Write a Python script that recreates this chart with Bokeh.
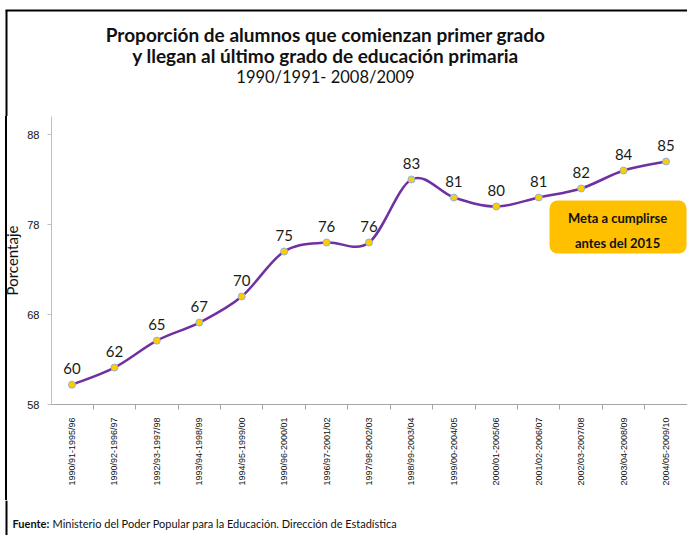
import math
import numpy as np
from bokeh.plotting import figure
from bokeh.layouts import column
from bokeh.models import Range1d, FixedTicker, BoxAnnotation
from bokeh.core.properties import value
from bokeh.embed import file_html
from bokeh.resources import INLINE

# ---- data ----
periods = ["1990/91-1995/96", "1990/92-1996/97", "1992/93-1997/98", "1993/94-1998/99",
           "1994/95-1999/00", "1990/96-2000/01", "1996/97-2001/02", "1997/98-2002/03",
           "1998/99-2003/04", "1999/00-2004/05", "2000/01-2005/06", "2001/02-2006/07",
           "2002/03-2007/08", "2003/04-2008/09", "2004/05-2009/10"]
values = [60.2, 62.1, 65.1, 67.1, 70.0, 75.0, 76.0, 76.0, 83.0, 81.0, 80.0, 81.0, 82.0, 84.0, 85.0]
labels = ["60", "62", "65", "67", "70", "75", "76", "76", "83", "81", "80", "81", "82", "84", "85"]
y_ticks = [58, 68, 78, 88]

title_1 = "Proporción de alumnos que comienzan primer grado"
title_2 = "y llegan al último grado de educación primaria"
title_3 = "1990/1991- 2008/2009"
y_label = "Porcentaje"
goal_1 = "Meta a cumplirse"
goal_2 = "antes del 2015"
source_bold = "Fuente:"
source_text = "Ministerio del Poder Popular para la Educación. Dirección de Estadística"

FONT = "Lato"
PURPLE = "#7030A0"
INK = "#111111"
TOTAL_W = 687
LEFT_RULE = {"background": "linear-gradient(90deg, #fff 5px, #000 5px, #000 7px, #fff 7px)"}


def panel(w, h, top):
    """Helper figure whose data coordinates are page pixels."""
    f = figure(width=w, height=h, x_range=Range1d(0, w), y_range=Range1d(top + h, top),
               output_backend="svg", toolbar_location=None,
               min_border=0, min_border_left=0, min_border_right=0,
               min_border_top=0, min_border_bottom=0,
               x_axis_location=None, y_axis_location=None,
               outline_line_color=None, background_fill_color="white",
               border_fill_color="white", frame_align=False)
    f.grid.visible = False
    return f


# ---- top: titles + frame border ----
top = panel(TOTAL_W, 116, 0)
top.segment(x0=[5], y0=[10], x1=[TOTAL_W], y1=[10], line_color="black", line_width=2)
top.segment(x0=[6], y0=[10], x1=[6], y1=[116], line_color="black", line_width=2)
top.text(x=[325, 325], y=[34, 55], text=[title_1, title_2], text_font=value(FONT),
         text_font_style="bold", text_font_size="19px", text_color=INK,
         text_align="center", text_baseline="middle")
top.text(x=[325], y=[76], text=[title_3], text_font=value(FONT),
         text_font_size="16.5px", text_color=INK,
         text_align="center", text_baseline="middle")

# ---- main chart ----
n = len(periods)
x = np.arange(n, dtype=float)
y = np.array(values, dtype=float)

p = figure(width=TOTAL_W, height=384,
           x_range=Range1d(-0.483, 14.506), y_range=Range1d(58, 90),
           output_backend="svg", toolbar_location=None,
           min_border_left=51, min_border_right=0, min_border_top=0, min_border_bottom=96,
           background_fill_color="white", border_fill_color=None,
           outline_line_color=None, styles=LEFT_RULE, frame_align=False)
p.grid.visible = False

p.xaxis.ticker = FixedTicker(ticks=list(range(n)), minor_ticks=[i + 0.5 for i in range(-1, n)])
p.xaxis.major_label_overrides = {i: lab for i, lab in enumerate(periods)}
p.xaxis.major_tick_out = 0
p.xaxis.major_tick_in = 0
p.xaxis.minor_tick_out = 5
p.xaxis.minor_tick_in = 0
p.xaxis.minor_tick_line_color = "#A6A6A6"
p.xaxis.axis_line_color = "#A6A6A6"
p.xaxis.major_label_orientation = math.pi / 2
p.xaxis.major_label_standoff = 8
p.xaxis.major_label_text_font_size = "9px"
p.xaxis.major_label_text_font = "Liberation Sans"
p.xaxis.major_label_text_color = INK

p.yaxis.ticker = FixedTicker(ticks=y_ticks)
p.yaxis.major_tick_out = 4
p.yaxis.major_tick_in = 0
p.yaxis.major_tick_line_color = "#BFBFBF"
p.yaxis.axis_line_color = "#BFBFBF"
p.yaxis.major_label_standoff = 8
p.yaxis.major_label_text_font_size = "11px"
p.yaxis.major_label_text_font = "Liberation Sans"
p.yaxis.major_label_text_color = INK
p.yaxis.axis_label = y_label
p.yaxis.axis_label_standoff = 3
p.yaxis.axis_label_text_font = FONT
p.yaxis.axis_label_text_font_style = "normal"
p.yaxis.axis_label_text_font_size = "15px"
p.yaxis.axis_label_text_color = INK

# smoothed line: Bezier segments with Catmull-Rom control points from the data
xp = np.concatenate([[x[0]], x, [x[-1]]])
yp = np.concatenate([[y[0]], y, [y[-1]]])
cx0 = xp[1:n] + (xp[2:n + 1] - xp[0:n - 1]) / 6
cy0 = yp[1:n] + (yp[2:n + 1] - yp[0:n - 1]) / 6
cx1 = xp[2:n + 1] - (xp[3:n + 2] - xp[1:n]) / 6
cy1 = yp[2:n + 1] - (yp[3:n + 2] - yp[1:n]) / 6
p.bezier(x0=x[:-1], y0=y[:-1], x1=x[1:], y1=y[1:],
         cx0=cx0, cy0=cy0, cx1=cx1, cy1=cy1,
         line_color=PURPLE, line_width=2.5)

p.scatter(x, y, size=7, fill_color="#FFCC00", line_color="#8DB3E2", line_width=1)

p.text(x, y, text=labels, text_font=value(FONT), text_font_size="15px",
       text_color="#1a1a1a", text_align="center", text_baseline="alphabetic",
       y_offset=-16)

# goal box
p.add_layout(BoxAnnotation(left=11.254, right=14.483, bottom=74.78, top=80.67,
                           fill_color="#FFC000", fill_alpha=1.0, line_color=None,
                           border_radius=8))
p.text(x=[12.857, 12.857], y=[78.67, 75.89], text=[goal_1, goal_2],
       text_font=value(FONT), text_font_style="bold", text_font_size="13px",
       text_color=INK, text_align="center", text_baseline="middle", level="overlay")

# ---- bottom: source ----
bottom = panel(TOTAL_W, 35, 500)
bottom.segment(x0=[6], y0=[500], x1=[6], y1=[535], line_color="black", line_width=2)
bottom.text(x=[12], y=[523], text=[source_bold], text_font=value(FONT),
            text_font_style="bold", text_font_size="11px", text_color=INK,
            text_align="left", text_baseline="middle")
bottom.text(x=[52], y=[523], text=[source_text], text_font=value(FONT),
            text_font_size="11px", text_color=INK,
            text_align="left", text_baseline="middle")

layout = column(top, p, bottom, spacing=0)

open("out.html", "w").write(file_html(layout, INLINE))
